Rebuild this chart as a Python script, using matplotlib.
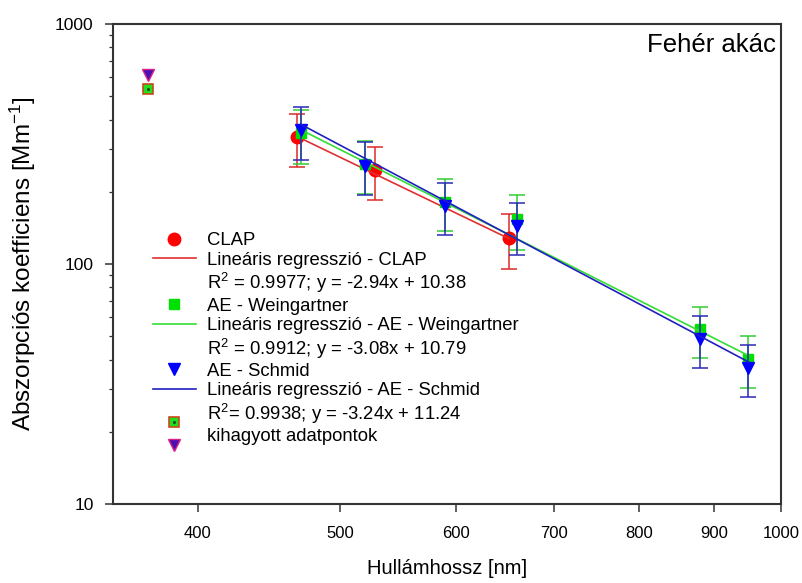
import numpy as np
import matplotlib
matplotlib.use('Agg')
import matplotlib.pyplot as plt
from matplotlib.lines import Line2D
from matplotlib.legend_handler import HandlerBase
from matplotlib.ticker import LogLocator, NullLocator, NullFormatter, FixedLocator

plt.rcParams['font.family'] = ['Liberation Sans', 'DejaVu Sans']
plt.rcParams['mathtext.fontset'] = 'custom'
plt.rcParams['mathtext.rm'] = 'Liberation Sans'
plt.rcParams['mathtext.it'] = 'Liberation Sans:italic'
plt.rcParams['mathtext.default'] = 'regular'

# ---- data ----
clap_wl = [467, 528, 652]
clap_val = [338, 246, 128]
clap_err = [84, 61, 33]

wein_wl = [470, 520, 590, 660, 880, 950]
wein_val = [350, 260, 182, 154, 53.5, 40.3]
wein_err = [89, 64, 45, 40, 13, 10]

schmid_wl = [470, 520, 590, 660, 880, 950]
schmid_val = [362, 257, 175, 144, 48.8, 36.9]
schmid_err = [91, 64, 43, 35, 12, 9]

omit_wl = [370]
omit_wein = [536]
omit_schmid = [613]

fit_slope = [-2.94, -3.08, -3.24]
fit_intercept = [10.38, 10.79, 11.24]
fit_lo = [467, 470, 470]
fit_hi = [652, 950, 950]

series_names = ['CLAP', 'AE - Weingartner', 'AE - Schmid']
fit_labels = ['Lineáris regresszió - CLAP',
              'Lineáris regresszió - AE - Weingartner',
              'Lineáris regresszió - AE - Schmid']
r2_labels = ['R$^2$ = 0.9977; y = -2.94x + 10.38',
             'R$^2$ = 0.9912; y = -3.08x + 10.79',
             'R$^2$= 0.9938; y = -3.24x + 11.24']
omit_label = 'kihagyott adatpontok'
panel_title = 'Fehér akác'

xticks = [400, 500, 600, 700, 800, 900, 1000]
yticks = [10, 100, 1000]

# ---- styles ----
marker_col = ['#ff0000', '#00e000', '#0000ff']
line_col = ['#e03030', '#33dd33', '#2020c0']
err_col = ['#dd2a2a', '#33cc33', '#2a2ab8']

fig = plt.figure(figsize=(8.03, 5.83), dpi=100)
ax = fig.add_axes([113/803, 1-504/583, 668/803, 480/583])
ax.set_xscale('log')
ax.set_yscale('log')

datasets = [(clap_wl, clap_val, clap_err, 'o', 9),
            (wein_wl, wein_val, wein_err, 's', 7.5),
            (schmid_wl, schmid_val, schmid_err, 'v', 9)]

marker_handles = []
fit_handles = []
for i, (wl, val, err, mk, ms) in enumerate(datasets):
    z = 3 + i
    ax.errorbar(wl, val, yerr=err, fmt='none', ecolor=err_col[i], elinewidth=1.1,
                capsize=5.5, capthick=1.1, zorder=z)
    xs = np.geomspace(fit_lo[i], fit_hi[i], 60)
    ys = 10 ** (fit_intercept[i] + fit_slope[i] * np.log10(xs))
    fl, = ax.plot(xs, ys, color=line_col[i], lw=1.2, zorder=z + 0.2)
    mh, = ax.plot(wl, val, ls='none', marker=mk, ms=ms, color=marker_col[i],
                  mec=marker_col[i], zorder=z + 0.1)
    marker_handles.append(mh)
    fit_handles.append(fl)

# omitted points
ax.plot(omit_wl, omit_wein, ls='none', marker='s', ms=7.5, mfc='#22dd22',
        mec='#c84a1a', mew=1.2, zorder=6)
ax.plot(omit_wl, omit_wein, ls='none', marker='.', ms=2.5, color='#205020', zorder=6.1)
ax.plot(omit_wl, omit_schmid, ls='none', marker='v', ms=8, mfc='#4a10b0',
        mec='#e0208a', mew=1.0, zorder=6)

ax.set_xlim(350, 1000)
ax.set_ylim(10, 1000)
ax.xaxis.set_major_locator(FixedLocator(xticks))
ax.xaxis.set_minor_locator(NullLocator())
ax.xaxis.set_minor_formatter(NullFormatter())
ax.set_xticklabels([str(t) for t in xticks])
ax.yaxis.set_major_locator(FixedLocator(yticks))
ax.set_yticklabels([str(t) for t in yticks])
ax.yaxis.set_minor_locator(LogLocator(base=10, subs=np.arange(2, 10)))
ax.yaxis.set_minor_formatter(NullFormatter())

ax.tick_params(which='major', direction='out', length=6, width=1.1, color='#333333',
               top=False, right=False)
ax.tick_params(axis='x', which='major', pad=10, labelsize=12)
ax.tick_params(axis='y', which='major', pad=8, labelsize=12.5)
ax.tick_params(which='minor', direction='out', length=3, width=0.9, color='#333333',
               top=False, right=False)
for sp in ax.spines.values():
    sp.set_linewidth(1.5)
    sp.set_color('#333333')

ax.set_xlabel('Hullámhossz [nm]', fontsize=14.5, labelpad=13)
ax.set_ylabel('Abszorpciós koefficiens [Mm$^{-1}$]', fontsize=17.5, labelpad=12)

ax.text(0.992, 0.982, panel_title, transform=ax.transAxes, ha='right', va='top',
        fontsize=18.5)


class OmitKey:
    pass


class HandlerOmitted(HandlerBase):
    def create_artists(self, legend, orig_handle, xdescent, ydescent, width, height,
                       fontsize, trans):
        cx = width / 2 - xdescent
        cy = height / 2 - ydescent
        sq = Line2D([cx], [cy + 9.5], ls='none', marker='s', ms=7, mfc='#22dd22',
                    mec='#c84a1a', mew=1.2, transform=trans)
        dot = Line2D([cx], [cy + 9.5], ls='none', marker='.', ms=2.5, color='#205020',
                     transform=trans)
        tri = Line2D([cx], [cy - 7.5], ls='none', marker='v', ms=8, mfc='#4a10b0',
                     mec='#e0208a', mew=1.0, transform=trans)
        return [sq, dot, tri]


blank = Line2D([], [], ls='none', marker='none')
handles = []
labels = []
for i in range(3):
    handles += [marker_handles[i], fit_handles[i], blank]
    labels += [series_names[i], fit_labels[i], r2_labels[i]]
handles.append(OmitKey())
labels.append(omit_label)

leg = ax.legend(handles, labels, loc='upper left', bbox_to_anchor=(0.06, 0.566),
                frameon=False, fontsize=13.3, handlelength=2.3, handletextpad=0.6,
                labelspacing=0.13, borderpad=0, borderaxespad=0,
                handler_map={OmitKey: HandlerOmitted()})

fig.savefig('out.png', dpi=100)
